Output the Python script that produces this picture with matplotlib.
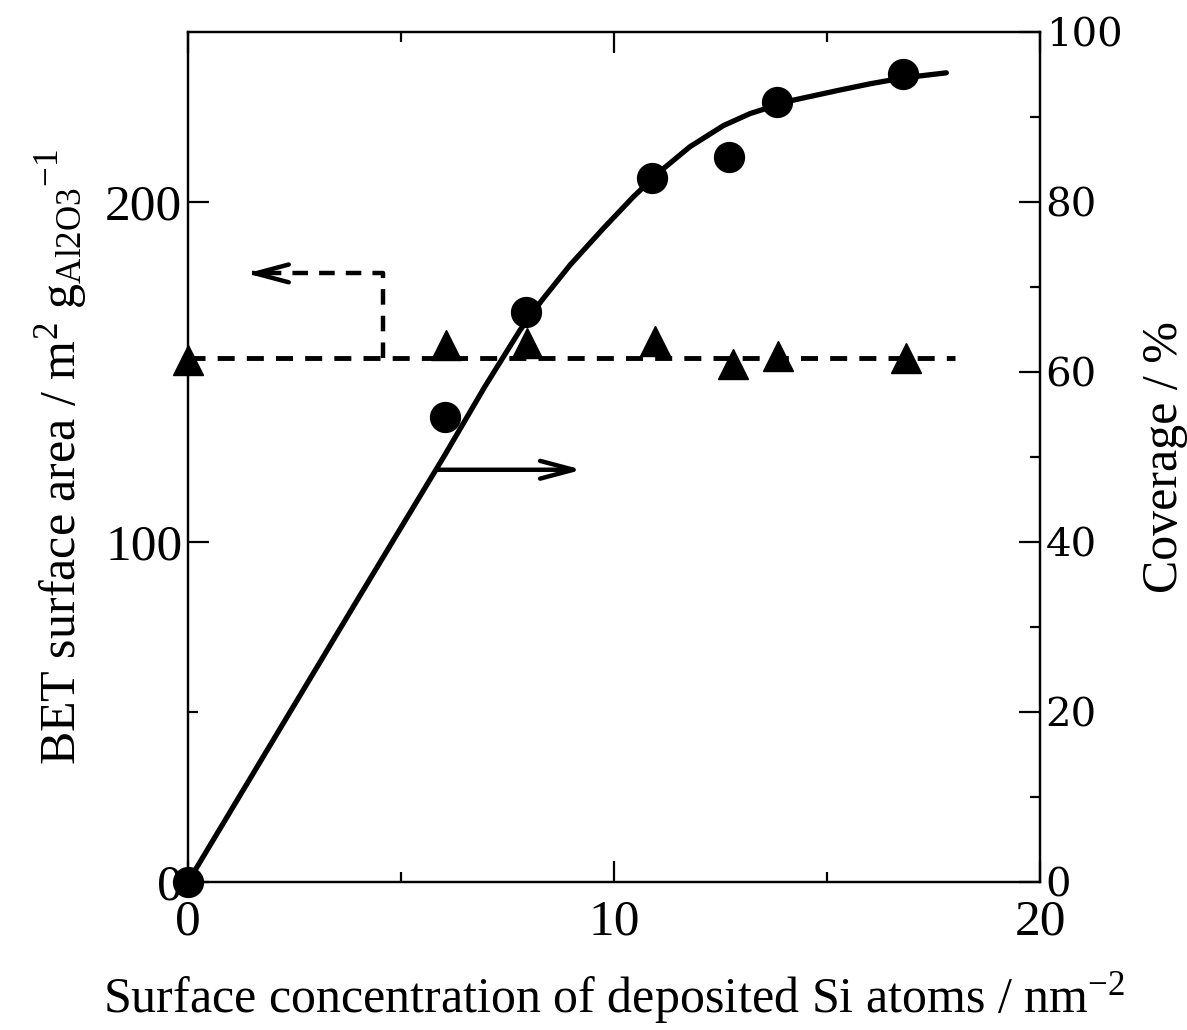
import numpy as np
import matplotlib.pyplot as plt

# Si surface concentration (nm^-2)
si_cov = [0, 6.03, 7.93, 10.9, 12.7, 13.83, 16.78]
coverage = [0, 54.7, 67.1, 82.8, 85.3, 91.8, 95.1]

si_bet = [0, 6.05, 7.95, 10.95, 12.8, 13.85, 16.85]
bet_area = [153.5, 157.9, 158.4, 159, 152.5, 154.6, 154]

# guide curve through the coverage points
curve_x = [0, 2, 4, 6, 6.97, 7.79, 8.30, 8.97, 9.75, 10.45, 11.08, 11.78,
           12.57, 13.19, 14.13, 15.23, 16.0, 16.78, 17.8]
curve_y = [0, 16.7, 33.4, 50.0, 58.3, 64.9, 68.4, 72.6, 76.9, 80.6, 83.6, 86.5,
           89.0, 90.4, 91.9, 93.1, 93.9, 94.6, 95.2]

bet_mean = 154
bet_line_end = 18.0

serif = "Liberation Serif"
plt.rcParams["font.family"] = serif
plt.rcParams["mathtext.fontset"] = "custom"
plt.rcParams["mathtext.rm"] = serif
plt.rcParams["mathtext.it"] = serif + ":italic"
plt.rcParams["mathtext.default"] = "rm"

fig = plt.figure(figsize=(11.87, 10.30), dpi=100)
ax = fig.add_axes([0.1584, 0.1437, 0.7178, 0.8252])
ax2 = ax.twinx()

# BET surface area, left axis
ax.plot([0, bet_line_end], [bet_mean, bet_mean], color="black", lw=3.5,
        dashes=(3.5, 2.5), zorder=2)
ax.plot(si_bet, bet_area, linestyle="none", marker="^", ms=21, color="black",
        clip_on=False, zorder=3)

# coverage, right axis
ax2.plot(curve_x, curve_y, color="black", lw=3.8, solid_capstyle="round",
         solid_joinstyle="round", zorder=2)
ax2.plot(si_cov, coverage, linestyle="none", marker="o", ms=21.5, color="black",
         clip_on=False, zorder=3)

ax.set_xlim(0, 20)
ax.set_ylim(0, 250)
ax2.set_ylim(0, 100)

# arrows pointing to the relevant axis
head = "->,head_length=0.6,head_width=0.16"
ax.plot([4.58, 4.58, 1.5], [bet_mean, 179, 179], color="black", lw=3.2,
        dashes=(3.5, 2.5))
ax.annotate("", xy=(1.38, 179), xytext=(1.9, 179),
            arrowprops=dict(arrowstyle=head, lw=3.2, color="black",
                            shrinkA=0, shrinkB=0, mutation_scale=40))
ax2.annotate("", xy=(9.25, 48.5), xytext=(5.85, 48.5),
             arrowprops=dict(arrowstyle=head, lw=3.2, color="black",
                             shrinkA=0, shrinkB=0, mutation_scale=40))

ax.set_xticks([0, 10, 20])
ax.set_xticks([5, 15], minor=True)
ax.set_yticks([0, 100, 200])
ax.set_yticks([50, 150], minor=True)
ax2.set_yticks([0, 20, 40, 60, 80, 100])
ax2.set_yticks([10, 30, 50, 70, 90], minor=True)

ax.tick_params(axis="both", which="both", direction="in", width=1.6,
               labelsize=37, top=True, right=False)
ax.tick_params(which="major", length=15)
ax.tick_params(which="minor", length=7.5)
ax.tick_params(axis="x", pad=12)
ax.tick_params(axis="y", pad=4)
ax2.tick_params(axis="y", which="both", direction="in", width=1.6, labelsize=29, pad=4)
ax2.tick_params(which="major", length=15)
ax2.tick_params(which="minor", length=7.5)
for lab in ax2.get_yticklabels():
    lab.set_family("DejaVu Serif")

for a in (ax, ax2):
    for sp in a.spines.values():
        sp.set_linewidth(1.6)

ax.set_xlabel("Surface concentration of deposited Si atoms / nm$^{-2}$",
              fontsize=36, labelpad=18)
ax.set_ylabel("BET surface area / m$^{2}$ g$_{\\mathrm{Al2O3}}$$^{-1}$",
              fontsize=36, labelpad=12)
ax2.set_ylabel("Coverage / %", fontsize=36, labelpad=14)

fig.savefig("out.png", dpi=100)
